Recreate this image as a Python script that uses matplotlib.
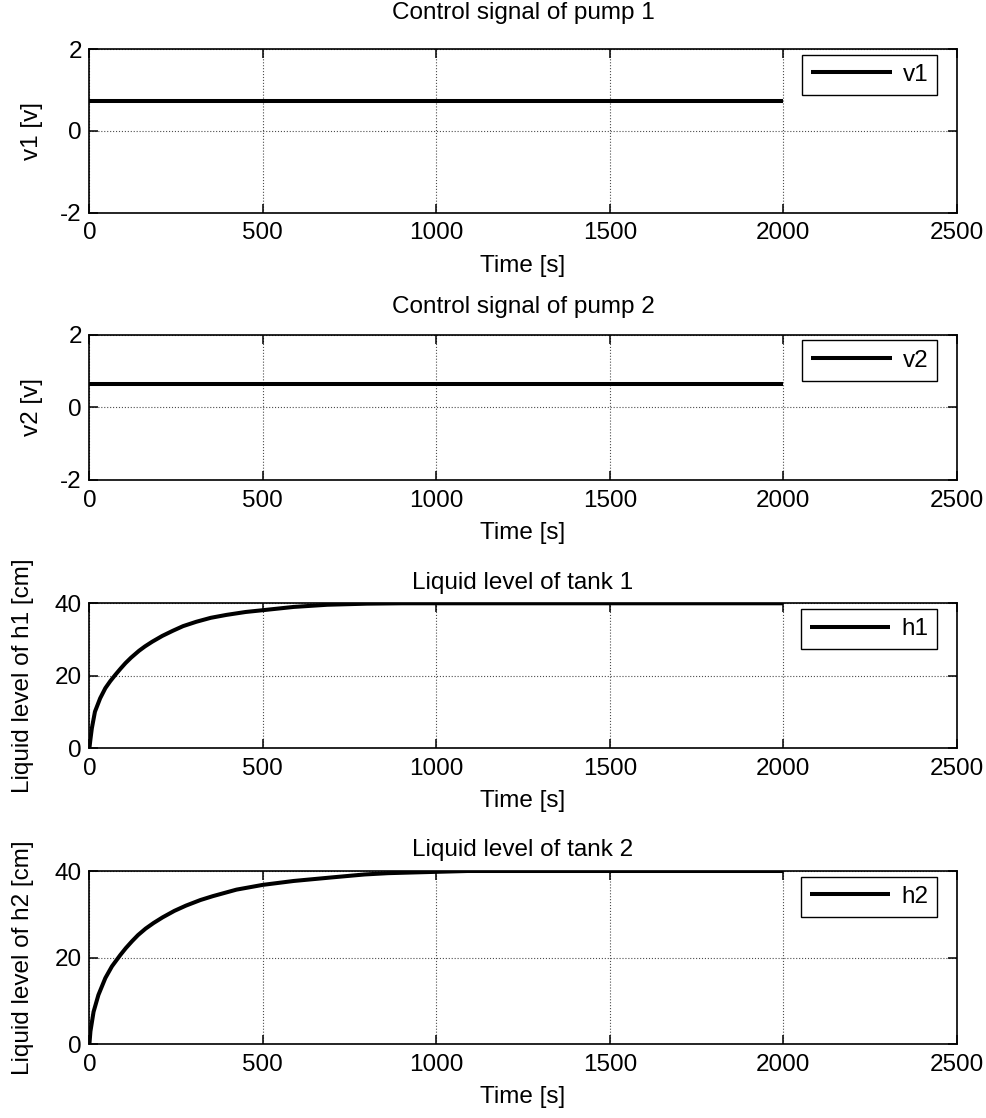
import matplotlib
matplotlib.use("Agg")
import matplotlib.pyplot as plt

plt.rcParams['font.family'] = ['Liberation Sans', 'DejaVu Sans']
plt.rcParams['axes.unicode_minus'] = False

# ---------------- data ----------------
t_v = [0, 2000]
v1 = [0.73, 0.73]
v2 = [0.66, 0.66]

t_h1 = [0, 3, 7, 16, 31, 46, 60, 75, 90, 104, 120, 143, 160, 181, 210, 240, 270,
        308, 350, 395, 450, 500, 589, 686, 800, 900, 1000, 2000]
h1 = [0, 2.5, 5.5, 10.1, 13.8, 16.6, 18.5, 20.3, 22.0, 23.5, 25.0, 26.9, 28.1, 29.4,
      31.0, 32.4, 33.7, 34.9, 36.0, 36.8, 37.6, 38.1, 39.0, 39.6, 39.9, 40, 40, 40]

t_h2 = [0, 3, 12, 26, 46, 65, 89, 105, 123, 140, 162, 185, 211, 245, 278, 320, 356,
        424, 500, 589, 696, 793, 861, 950, 1090, 1200, 2000]
h2 = [0, 3.0, 7.5, 11.4, 15.3, 18.0, 20.6, 22.2, 23.8, 25.2, 26.7, 28.0, 29.3, 30.8,
      32.0, 33.3, 34.2, 35.7, 36.8, 37.7, 38.5, 39.2, 39.5, 39.7, 40, 40, 40]

titles = ["Control signal of pump 1", "Control signal of pump 2",
          "Liquid level of tank 1", "Liquid level of tank 2"]
ylabels = ["v1 [v]", "v2 [v]", "Liquid level of h1 [cm]", "Liquid level of h2 [cm]"]
legend_labels = ["v1", "v2", "h1", "h2"]
xlabel = "Time [s]"
xticks = [0, 500, 1000, 1500, 2000, 2500]
yticks_v = [-2, 0, 2]
yticks_h = [0, 20, 40]

# ---------------- layout (pixels) ----------------
W, H = 987, 1118
FS = 17.5
fig = plt.figure(figsize=(W / 100, H / 100), dpi=100)

left, right = 89.4, 956.7
rows = [(49, 212.7), (335, 480), (603.3, 748.3), (871, 1044.3)]
title_y = [13, 307, 583, 850]
ylabel_x = [32, 32, 23.5, 23.5]
xlabel_off = 53  # px below axes bottom (center)

series = [(t_v, v1), (t_v, v2), (t_h1, h1), (t_h2, h2)]
ylims = [(-2, 2), (-2, 2), (0, 40), (0, 40)]
ytk = [yticks_v, yticks_v, yticks_h, yticks_h]

for i, (top, bot) in enumerate(rows):
    hpx = bot - top
    wpx = right - left
    ax = fig.add_axes([left / W, 1 - bot / H, wpx / W, hpx / H])
    x, y = series[i]
    ax.plot(x, y, color='black', lw=2.9, label=legend_labels[i], solid_capstyle='butt')
    ax.set_xlim(0, 2500)
    ax.set_ylim(*ylims[i])
    ax.set_xticks(xticks)
    ax.set_yticks(ytk[i])
    ax.grid(True, color='0.3', linestyle=':', linewidth=0.8)
    ax.tick_params(direction='in', length=6.5, width=1.1, top=True, right=True,
                   labelsize=FS, pad=5.5)
    ax.tick_params(axis='x', pad=7)
    for sp in ax.spines.values():
        sp.set_linewidth(1.2)
        sp.set_color('black')
    # labels
    ax.set_ylabel(ylabels[i], fontsize=FS, va='center')
    ax.yaxis.set_label_coords((ylabel_x[i] - left) / wpx, 0.5)
    ax.set_xlabel(xlabel, fontsize=FS, va='center')
    ax.xaxis.set_label_coords(0.5, -xlabel_off / hpx)
    fig.text((left + right) / 2 / W, 1 - title_y[i] / H, titles[i], fontsize=FS,
             ha='center', va='center')
    # legend
    leg = ax.legend(loc='upper right',
                    bbox_to_anchor=((937.3 - left) / wpx, 1 - 5.5 / hpx),
                    borderaxespad=0, fontsize=FS, frameon=True, fancybox=False,
                    edgecolor='black', framealpha=1, borderpad=0.38,
                    handlelength=3.3, handletextpad=0.45)
    leg.get_frame().set_linewidth(1.0)

fig.savefig("out.png", dpi=100)
